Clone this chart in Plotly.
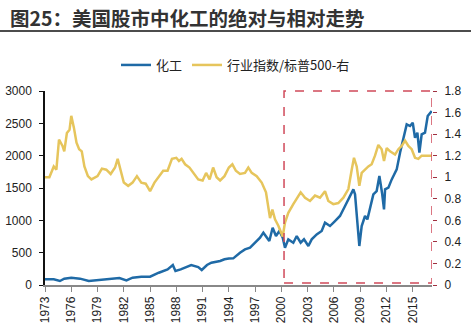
import plotly.graph_objects as go

# Chemical sector index (left axis)
chem_years = [1973.0, 1974.0, 1974.7, 1975.2, 1976.0, 1977.0, 1978.0, 1979.0, 1980.0, 1981.0,
              1981.5, 1982.3, 1983.0, 1984.0, 1985.0, 1986.0, 1987.0, 1987.6, 1987.9, 1988.5,
              1989.0, 1989.7, 1990.5, 1990.9, 1991.5, 1992.0, 1993.0, 1993.5, 1994.0, 1994.5,
              1995.27, 1995.84, 1996.42, 1996.99, 1997.56, 1997.94, 1998.24, 1998.62, 1999.0, 1999.38,
              1999.77, 2000.15, 2000.41, 2000.79, 2001.36, 2001.75, 2002.2, 2002.58, 2003.08, 2003.46,
              2004.03, 2004.6, 2004.98, 2005.55, 2006.12, 2006.69, 2007.27, 2007.84, 2008.22, 2008.41,
              2008.67, 2008.9, 2009.17, 2009.55, 2009.82, 2010.12, 2010.5, 2010.88, 2011.19, 2011.49,
              2011.72, 2011.84, 2012.22, 2012.6, 2013.17, 2013.55, 2013.93, 2014.31, 2014.69, 2015.0,
              2015.26, 2015.53, 2015.76, 2016.02, 2016.4, 2016.71, 2017.17]
chem_vals = [88, 88, 62, 98, 113, 98, 62, 77, 88, 98,
             108, 72, 113, 129, 129, 190, 242, 309, 216, 242,
             268, 309, 278, 232, 309, 345, 371, 397, 410, 412,
             500, 551, 577, 654, 732, 809, 757, 680, 886, 757,
             835, 732, 577, 706, 654, 757, 654, 706, 603, 706,
             783, 835, 963, 912, 989, 1067, 1221, 1376, 1479, 1402,
             1015, 603, 912, 1067, 1015, 1170, 1402, 1453, 1685, 1427,
             1170, 1479, 1505, 1633, 1788, 2046, 2252, 2484, 2458, 2510,
             2278, 2355, 2046, 2329, 2355, 2613, 2690]

# Industry index / S&P 500 (right axis)
ratio_years = [1973.0, 1973.5, 1974.0, 1974.3, 1974.6, 1975.0, 1975.2, 1975.5, 1975.8, 1976.0,
               1976.3, 1976.6, 1976.9, 1977.2, 1977.5, 1977.9, 1978.3, 1978.7, 1979.0, 1979.5,
               1980.0, 1980.5, 1981.0, 1981.3, 1981.7, 1982.0, 1982.5, 1983.0, 1983.5, 1984.0,
               1984.5, 1985.0, 1985.5, 1986.0, 1986.5, 1987.0, 1987.5, 1988.0, 1988.3, 1988.6,
               1989.0, 1989.5, 1990.0, 1990.5, 1991.0, 1991.4, 1991.8, 1992.2, 1992.6, 1993.0,
               1993.5, 1994.0, 1994.4, 1994.8, 1995.27, 1995.84, 1996.22, 1996.61, 1997.18, 1997.75,
               1998.24, 1998.7, 1998.97, 1999.27, 1999.65, 2000.15, 2000.41, 2000.79, 2001.36, 2001.94,
               2002.2, 2002.7, 2003.27, 2003.84, 2004.41, 2004.98, 2005.36, 2005.93, 2006.5, 2007.08,
               2007.65, 2008.03, 2008.29, 2008.6, 2008.9, 2009.17, 2009.55, 2009.93, 2010.31, 2010.69,
               2011.07, 2011.45, 2011.72, 2012.03, 2012.41, 2012.98, 2013.36, 2013.74, 2014.12, 2014.5,
               2014.88, 2015.26, 2015.64, 2016.02, 2016.59, 2017.17]
ratio_vals = [1.00, 1.00, 1.10, 1.07, 1.35, 1.29, 1.24, 1.41, 1.44, 1.57,
              1.46, 1.32, 1.26, 1.24, 1.10, 1.01, 0.98, 1.00, 1.01, 1.08,
              1.07, 1.03, 1.09, 1.17, 1.04, 0.95, 0.92, 0.95, 1.01, 0.95,
              0.94, 0.87, 0.95, 1.01, 1.06, 1.06, 1.17, 1.18, 1.15, 1.17,
              1.12, 1.09, 1.04, 0.98, 0.97, 1.04, 0.98, 1.09, 1.00, 0.97,
              1.01, 1.09, 1.12, 1.06, 1.03, 1.04, 1.09, 1.04, 1.01, 0.95,
              0.86, 0.62, 0.70, 0.61, 0.55, 0.45, 0.58, 0.67, 0.75, 0.83,
              0.86, 0.81, 0.78, 0.83, 0.81, 0.87, 0.78, 0.75, 0.76, 0.81,
              0.89, 1.07, 1.18, 1.10, 0.92, 1.04, 1.07, 1.10, 1.12, 1.20,
              1.30, 1.26, 1.15, 1.27, 1.24, 1.21, 1.26, 1.29, 1.34, 1.29,
              1.26, 1.18, 1.17, 1.20, 1.20, 1.20]

tick_years = [1973, 1976, 1979, 1982, 1985, 1988, 1991, 1994, 1997, 2000, 2003, 2006, 2009, 2012, 2015]
tick_labels = [str(y) for y in tick_years]

x_end = 2017.2
box_start = 2000.3

BLUE = "#1f6aa6"
YELLOW = "#e6c55c"
FONT = "Liberation Sans, Arial, sans-serif"

fig = go.Figure()
fig.add_trace(go.Scatter(x=chem_years, y=chem_vals, name="化工", mode="lines",
                         line=dict(color=BLUE, width=2.5)))
fig.add_trace(go.Scatter(x=ratio_years, y=ratio_vals, name="行业指数/标普500-右", mode="lines",
                         line=dict(color=YELLOW, width=2.5), yaxis="y2"))

fig.update_layout(
    width=471, height=329,
    margin=dict(l=45, r=39, t=91, b=44),
    paper_bgcolor="white", plot_bgcolor="white",
    font=dict(family=FONT, size=12, color="#222"),
    title=dict(text="<b>图25：美国股市中化工的绝对与相对走势</b>",
               x=10/471, xanchor="left", xref="container",
               y=1-19/329, yanchor="middle", yref="container",
               font=dict(family="Noto Sans CJK SC", size=19.5, color="#333"),
               automargin=False),
    showlegend=True,
    legend=dict(orientation="h", x=0.5, xanchor="center", xref="container",
                y=1-65/329, yanchor="middle", yref="container",
                font=dict(family="Noto Sans CJK SC", size=13, color="#222"),
                itemwidth=30, tracegroupgap=0, bgcolor="rgba(0,0,0,0)"),
    xaxis=dict(range=[1973, x_end], tickvals=tick_years, ticktext=tick_labels,
               tickangle=-90, showgrid=False, zeroline=False, automargin=False,
               showline=True, linecolor="#888", linewidth=1.5,
               ticks="outside", ticklen=5, tickcolor="#888",
               tickfont=dict(family=FONT, size=12, color="#222")),
    yaxis=dict(range=[0, 3000], dtick=500, showgrid=False, zeroline=False, automargin=False,
               showline=True, linecolor="#111", linewidth=1.5,
               ticks="outside", ticklen=4, tickcolor="#111", ticklabelstandoff=5,
               tickfont=dict(family=FONT, size=12, color="#222")),
    yaxis2=dict(range=[0, 1.8], dtick=0.2, overlaying="y", side="right", automargin=False,
                showgrid=False, zeroline=False, showline=False,
                ticks="outside", ticklen=4, tickcolor="#a03040", ticklabelstandoff=5,
                tickfont=dict(family=FONT, size=12, color="#222")),
)

# Title underline
fig.add_shape(type="line", xref="paper", yref="paper",
              x0=-45/387, x1=426/387, y0=(285-31)/194, y1=(285-31)/194,
              line=dict(color="#111", width=1.5))

# Red dashed highlight box
fig.add_shape(type="rect", xref="x", yref="paper",
              x0=box_start, x1=x_end, y0=0.01, y1=1.0,
              line=dict(color="#d04a5a", width=1.5, dash="dash"),
              fillcolor="rgba(0,0,0,0)", layer="above")

fig.write_html("out.html")
